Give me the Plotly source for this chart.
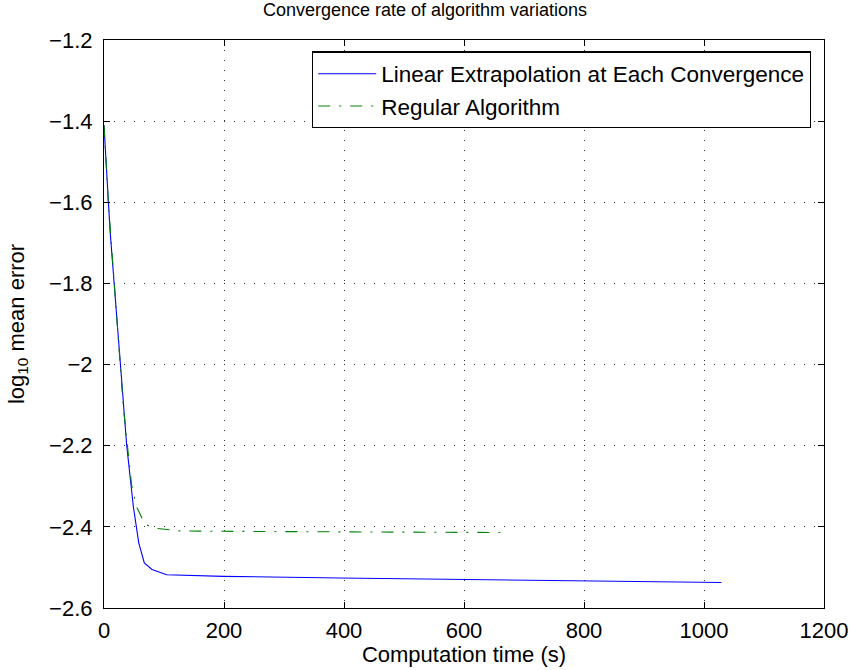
import plotly.graph_objects as go

# Data
t_linear = [0, 10, 29.4, 37.8, 49, 58, 67.2, 80, 104.4, 199, 393, 600, 800, 1029]
err_linear = [-1.41, -1.668, -2.038, -2.199, -2.351, -2.44, -2.489, -2.505, -2.518, -2.522,
              -2.526, -2.529, -2.532, -2.537]

t_regular = [0, 7.2, 32.2, 46, 54.4, 68.3, 87.8, 126.7, 199, 365, 500, 675]
err_regular = [-1.41, -1.6, -2.104, -2.297, -2.351, -2.394, -2.404, -2.410, -2.411,
               -2.413, -2.413, -2.414]

x_ticks = [0, 200, 400, 600, 800, 1000, 1200]
y_ticks = [-2.6, -2.4, -2.2, -2.0, -1.8, -1.6, -1.4, -1.2]

FONT = "Liberation Sans, Arial, Helvetica, sans-serif"
FS = 22

fig = go.Figure()
fig.add_trace(go.Scatter(x=t_linear, y=err_linear, mode="lines",
                         name="Linear Extrapolation at Each Convergence",
                         line=dict(color="#0000ff", width=1.1)))
fig.add_trace(go.Scatter(x=t_regular, y=err_regular, mode="lines",
                         name="Regular Algorithm",
                         line=dict(color="#008000", width=1.1, dash="12px,9px,2px,9px")))

axis_common = dict(showline=True, linecolor="black", linewidth=1.2, mirror="ticks",
                   ticks="inside", ticklen=6, tickcolor="black", tickwidth=1,
                   showgrid=True, gridcolor="rgba(0,0,0,0.8)", griddash="1px,9px", gridwidth=1,
                   zeroline=False, automargin=False,
                   tickfont=dict(size=FS, color="black", family=FONT),
                   title_font=dict(size=FS, color="black", family=FONT))

fig.update_xaxes(range=[0, 1200], tickvals=x_ticks, ticktext=[str(v) for v in x_ticks],
                 title_text="Computation time (s)", title_standoff=0, ticklabelstandoff=2,
                 **axis_common)
fig.update_yaxes(range=[-2.6, -1.2], tickvals=y_ticks,
                 ticktext=[("\u2212" + ("%g" % abs(v))) for v in y_ticks],
                 title_text="log<sub>10</sub> mean error", title_standoff=18, ticklabelstandoff=6,
                 **axis_common)

fig.update_layout(
    width=850, height=670,
    margin=dict(l=104, r=26, t=40, b=62),
    paper_bgcolor="white", plot_bgcolor="white",
    font=dict(family=FONT, color="black", size=FS),
    title=dict(text="Convergence rate of algorithm variations", x=0.5, xanchor="center",
               y=0.995, yanchor="top", font=dict(size=18, family=FONT, color="black")),
    legend=dict(x=0.982, xanchor="right", y=0.98, yanchor="top",
                bgcolor="white", bordercolor="black", borderwidth=1.2,
                font=dict(size=22.5, family=FONT, color="black"),
                tracegroupgap=0, itemwidth=58),
    showlegend=True,
)

fig.write_html("out.html")
